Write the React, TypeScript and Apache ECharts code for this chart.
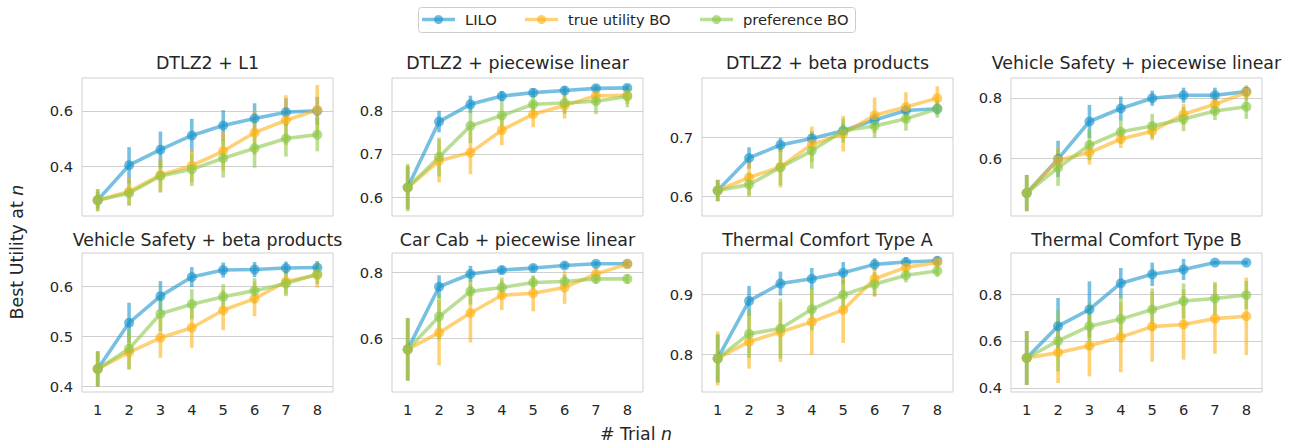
import React, { useEffect, useRef } from "react";
import * as echarts from "echarts";

const trials = ["1", "2", "3", "4", "5", "6", "7", "8"];
const methodNames = ["LILO", "true utility BO", "preference BO"];
const panelTitles = [
  "DTLZ2 + L1",
  "DTLZ2 + piecewise linear",
  "DTLZ2 + beta products",
  "Vehicle Safety + piecewise linear",
  "Vehicle Safety + beta products",
  "Car Cab + piecewise linear",
  "Thermal Comfort Type A",
  "Thermal Comfort Type B",
];
const yMin = [0.221, 0.556, 0.567, 0.409, 0.389, 0.436, 0.737, 0.382];
const yMax = [0.718, 0.876, 0.8, 0.866, 0.666, 0.86, 0.969, 0.975];
const yTicks = [
  [0.4, 0.6],
  [0.6, 0.7, 0.8],
  [0.6, 0.7],
  [0.6, 0.8],
  [0.4, 0.5, 0.6],
  [0.6, 0.8],
  [0.8, 0.9],
  [0.4, 0.6, 0.8],
];

const liloMean = [
  [0.278, 0.404, 0.46, 0.511, 0.547, 0.572, 0.595, 0.6],
  [0.622, 0.775, 0.815, 0.834, 0.842, 0.847, 0.852, 0.853],
  [0.61, 0.665, 0.687, 0.698, 0.711, 0.729, 0.745, 0.748],
  [0.485, 0.598, 0.722, 0.765, 0.799, 0.809, 0.809, 0.821],
  [0.435, 0.527, 0.58, 0.618, 0.632, 0.633, 0.636, 0.637],
  [0.566, 0.757, 0.796, 0.808, 0.814, 0.822, 0.827, 0.827],
  [0.793, 0.889, 0.918, 0.926, 0.936, 0.95, 0.954, 0.956],
  [0.527, 0.663, 0.734, 0.846, 0.884, 0.905, 0.934, 0.934],
];
const liloErr = [
  [0.03, 0.065, 0.065, 0.06, 0.055, 0.055, 0.05, 0.05],
  [0.05, 0.025, 0.02, 0.012, 0.01, 0.01, 0.008, 0.008],
  [0.018, 0.018, 0.012, 0.012, 0.012, 0.012, 0.01, 0.01],
  [0.06, 0.06, 0.055, 0.04, 0.025, 0.025, 0.025, 0.015],
  [0.035, 0.04, 0.03, 0.02, 0.015, 0.015, 0.013, 0.013],
  [0.095, 0.035, 0.025, 0.012, 0.01, 0.01, 0.008, 0.008],
  [0.04, 0.025, 0.02, 0.018, 0.018, 0.01, 0.008, 0.007],
  [0.115, 0.12, 0.12, 0.065, 0.05, 0.045, 0.008, 0.008],
];
const trueMean = [
  [0.278, 0.309, 0.369, 0.402, 0.455, 0.521, 0.566, 0.603],
  [0.622, 0.684, 0.703, 0.755, 0.792, 0.812, 0.835, 0.836],
  [0.61, 0.632, 0.65, 0.688, 0.706, 0.737, 0.751, 0.766],
  [0.485, 0.594, 0.619, 0.664, 0.69, 0.746, 0.779, 0.818],
  [0.435, 0.468, 0.497, 0.517, 0.552, 0.575, 0.609, 0.622],
  [0.566, 0.617, 0.677, 0.731, 0.737, 0.755, 0.796, 0.826],
  [0.793, 0.821, 0.837, 0.854, 0.874, 0.926, 0.945, 0.953],
  [0.527, 0.55, 0.579, 0.616, 0.661, 0.67, 0.695, 0.705],
];
const trueErr = [
  [0.04, 0.05, 0.06, 0.06, 0.07, 0.08, 0.09, 0.09],
  [0.05, 0.05, 0.05, 0.035, 0.03, 0.03, 0.02, 0.02],
  [0.018, 0.03, 0.035, 0.03, 0.03, 0.03, 0.025, 0.02],
  [0.06, 0.04, 0.04, 0.03, 0.03, 0.035, 0.03, 0.025],
  [0.035, 0.035, 0.04, 0.04, 0.04, 0.035, 0.025, 0.025],
  [0.095, 0.1, 0.09, 0.045, 0.055, 0.05, 0.02, 0.01],
  [0.045, 0.045, 0.05, 0.055, 0.055, 0.03, 0.012, 0.008],
  [0.115, 0.13, 0.13, 0.15, 0.15, 0.15, 0.15, 0.165],
];
const prefMean = [
  [0.278, 0.303, 0.365, 0.389, 0.429, 0.465, 0.5, 0.514],
  [0.622, 0.693, 0.765, 0.789, 0.815, 0.818, 0.822, 0.833],
  [0.61, 0.62, 0.649, 0.677, 0.711, 0.719, 0.731, 0.748],
  [0.485, 0.569, 0.644, 0.688, 0.707, 0.73, 0.757, 0.771],
  [0.435, 0.475, 0.545, 0.564, 0.579, 0.591, 0.605, 0.624],
  [0.566, 0.666, 0.743, 0.755, 0.77, 0.773, 0.781, 0.781],
  [0.793, 0.834, 0.843, 0.875, 0.899, 0.917, 0.932, 0.939],
  [0.527, 0.6, 0.663, 0.693, 0.734, 0.77, 0.781, 0.796],
];
const prefErr = [
  [0.04, 0.045, 0.06, 0.06, 0.07, 0.07, 0.065, 0.06],
  [0.055, 0.045, 0.04, 0.035, 0.025, 0.025, 0.03, 0.025],
  [0.018, 0.02, 0.03, 0.03, 0.02, 0.02, 0.02, 0.015],
  [0.06, 0.06, 0.05, 0.04, 0.04, 0.04, 0.03, 0.04],
  [0.035, 0.04, 0.035, 0.03, 0.025, 0.025, 0.025, 0.02],
  [0.095, 0.07, 0.04, 0.03, 0.02, 0.02, 0.015, 0.015],
  [0.04, 0.04, 0.05, 0.035, 0.025, 0.02, 0.012, 0.01],
  [0.115, 0.13, 0.1, 0.1, 0.09, 0.075, 0.07, 0.06],
];

const COLORS = ["#1e96cd", "#ffb31a", "#8cc84b"];
const FONT = "DejaVu Sans";
const TEXT = "#262626";
const GRIDC = "#cfcfcf";

const colLeft = [82, 392, 702, 1011];
const rowTop = [78, 253];
const GW = 251;
const GH = 138;
const legendIconX = [422, 525, 700];

export default function App() {
  const ref = useRef<HTMLDivElement>(null);
  useEffect(() => {
    if (!ref.current) return;
    const chart = echarts.init(ref.current, undefined, { renderer: "svg" });
    const means = [liloMean, trueMean, prefMean];
    const errs = [liloErr, trueErr, prefErr];
    const grids: any[] = [];
    const xAxes: any[] = [];
    const yAxes: any[] = [];
    const series: any[] = [];
    const graphics: any[] = [];
    for (let p = 0; p < 8; p++) {
      const r = Math.floor(p / 4);
      const c = p % 4;
      grids.push({
        left: colLeft[c],
        top: rowTop[r],
        width: GW,
        height: GH + r,
        show: true,
        borderColor: GRIDC,
        borderWidth: 1,
        backgroundColor: "transparent",
        containLabel: false,
      });
      xAxes.push({
        type: "category",
        gridIndex: p,
        data: trials,
        boundaryGap: true,
        axisTick: { show: false },
        axisLine: { show: false },
        splitLine: { show: false },
        axisLabel: {
          show: r === 1,
          color: TEXT,
          fontFamily: FONT,
          fontSize: 14.7,
          margin: 10,
        },
      });
      yAxes.push({
        type: "value",
        gridIndex: p,
        min: yMin[p],
        max: yMax[p],
        axisLine: { show: false },
        axisTick: { show: false, customValues: yTicks[p] },
        splitLine: { show: true, lineStyle: { color: GRIDC, width: 1 } },
        axisLabel: {
          customValues: yTicks[p],
          color: TEXT,
          fontFamily: FONT,
          fontSize: 14.7,
          margin: 9,
          formatter: (v: number) => v.toFixed(1),
        },
      });
      graphics.push({
        type: "text",
        x: colLeft[c] + GW / 2,
        y: r === 0 ? 63 : 239.5,
        style: {
          text: panelTitles[p],
          fontFamily: FONT,
          fontSize: 17.4,
          fill: TEXT,
          textAlign: "center",
          textVerticalAlign: "middle",
        },
      });
      for (let m = 0; m < 3; m++) {
        const mean = means[m][p];
        const err = errs[m][p];
        const color = COLORS[m];
        series.push({
          type: "custom",
          name: methodNames[m] + " CI",
          xAxisIndex: p,
          yAxisIndex: p,
          silent: true,
          clip: false,
          data: mean.map((v, i) => [i, v - err[i], v + err[i]]),
          encode: { x: 0, y: [1, 2] },
          renderItem: (_params: any, api: any) => {
            const x = api.value(0);
            const lo = api.coord([x, api.value(1)]);
            const hi = api.coord([x, api.value(2)]);
            return {
              type: "line",
              shape: { x1: lo[0], y1: lo[1], x2: hi[0], y2: hi[1] },
              style: { stroke: color, lineWidth: 3.6, opacity: 0.6 },
            };
          },
        });
        series.push({
          type: "line",
          name: methodNames[m],
          xAxisIndex: p,
          yAxisIndex: p,
          data: mean,
          symbol: "circle",
          symbolSize: 10,
          showSymbol: true,
          lineStyle: { color, width: 3.6, opacity: 0.6 },
          itemStyle: { color, opacity: 0.65, borderWidth: 0 },
          emphasis: { disabled: true },
          silent: true,
        });
      }
    }
    // legend (drawn manually for thick line icons)
    graphics.push({
      type: "rect",
      shape: { x: 418.5, y: 7.5, width: 437, height: 25, r: 3 },
      style: { fill: "#ffffff", stroke: "#cccccc", lineWidth: 1 },
    });
    methodNames.forEach((name, m) => {
      const x0 = legendIconX[m];
      graphics.push({
        type: "line",
        shape: { x1: x0, y1: 19.5, x2: x0 + 33, y2: 19.5 },
        style: { stroke: COLORS[m], lineWidth: 3.6, opacity: 0.6 },
      });
      graphics.push({
        type: "circle",
        shape: { cx: x0 + 16.5, cy: 19.5, r: 4.5 },
        style: { fill: COLORS[m], opacity: 0.65 },
      });
      graphics.push({
        type: "text",
        x: x0 + 43,
        y: 19.5,
        style: {
          text: name,
          fontFamily: FONT,
          fontSize: 14.7,
          fill: TEXT,
          textAlign: "left",
          textVerticalAlign: "middle",
        },
      });
    });
    graphics.push({
      type: "text",
      x: 636,
      y: 434,
      style: {
        text: "# Trial {i|n}",
        fontFamily: FONT,
        fontSize: 17.4,
        fill: TEXT,
        textAlign: "center",
        textVerticalAlign: "middle",
        rich: { i: { fontStyle: "italic", fontFamily: FONT, fontSize: 17.4, fill: TEXT } },
      },
    });
    graphics.push({
      type: "text",
      x: 17,
      y: 252,
      rotation: Math.PI / 2,
      style: {
        text: "Best Utility at {i|n}",
        fontFamily: FONT,
        fontSize: 17.4,
        fill: TEXT,
        textAlign: "center",
        textVerticalAlign: "middle",
        rich: { i: { fontStyle: "italic", fontFamily: FONT, fontSize: 17.4, fill: TEXT } },
      },
    });

    chart.setOption({
      animation: false,
      backgroundColor: "#ffffff",
      textStyle: { fontFamily: FONT },
      grid: grids,
      xAxis: xAxes,
      yAxis: yAxes,
      series,
      graphic: graphics,
    });
    return () => chart.dispose();
  }, []);
  return (
    <div
      ref={ref}
      style={{ position: "absolute", left: 0, top: 0, width: 1294, height: 444 }}
    />
  );
}
